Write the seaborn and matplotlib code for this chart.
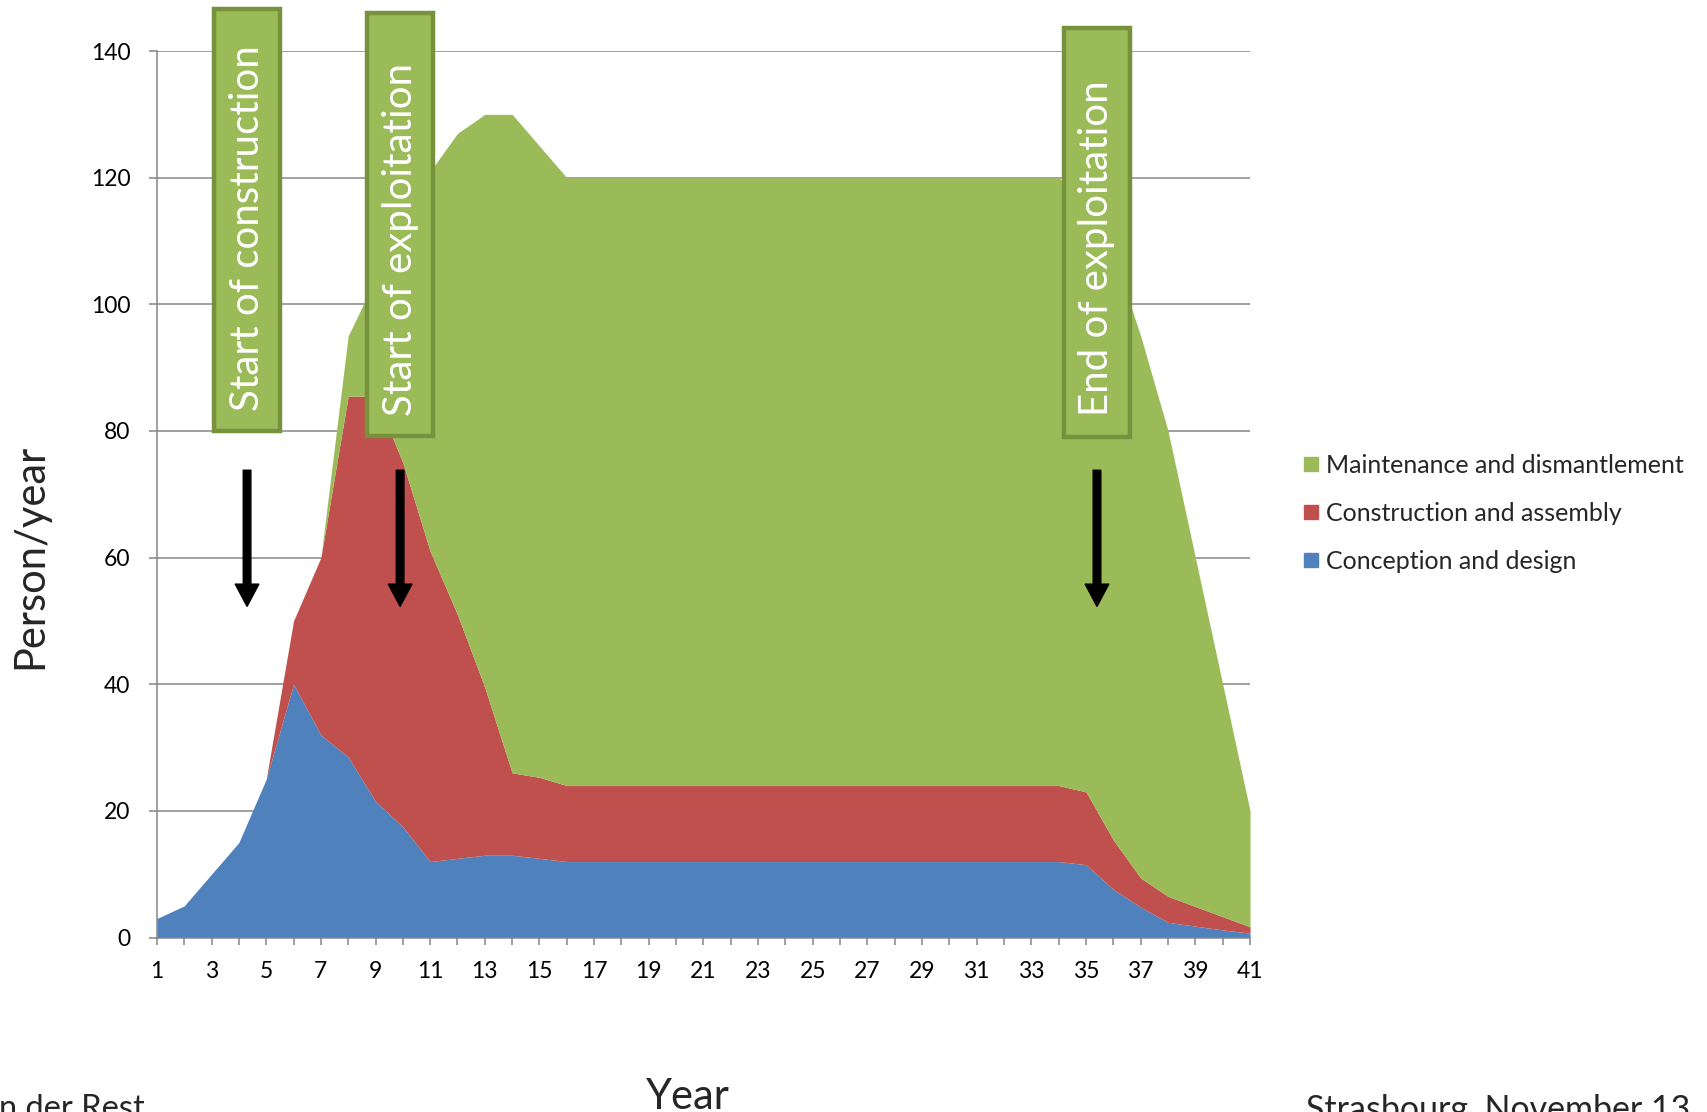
import numpy as np
import pandas as pd
import matplotlib
matplotlib.use('Agg')
import matplotlib.pyplot as plt
import seaborn as sns
from matplotlib.patches import Rectangle
from matplotlib.lines import Line2D

# data (person/year per phase)
years = list(range(1, 42))
conception = [3, 5, 10, 15, 25, 40, 32, 28.5, 21.5, 17.5,
              12, 12.5, 13, 13, 12.5, 12, 12, 12, 12, 12,
              12, 12, 12, 12, 12, 12, 12, 12, 12, 12,
              12, 12, 12, 12, 11.5, 7.6, 4.8, 2.4, 1.8, 1.2,
              0.7]
construction = [0, 0, 0, 0, 0, 10, 28, 57, 64, 57.5,
                49, 38.5, 26.5, 13, 12.8, 12, 12, 12, 12, 12,
                12, 12, 12, 12, 12, 12, 12, 12, 12, 12,
                12, 12, 12, 12, 11.5, 7.8, 4.6, 4.1, 3.1, 2.1,
                1.0]
maintenance = [0, 0, 0, 0, 0, 0, 0, 9.5, 18.5, 38,
               60, 76, 90.5, 104, 99.7, 96, 96, 96, 96, 96,
               96, 96, 96, 96, 96, 96, 96, 96, 96, 96,
               96, 96, 96, 96, 93, 92.6, 85.6, 73.5, 55.1, 36.7,
               18.3]

phases = ['Conception and design', 'Construction and assembly', 'Maintenance and dismantlement']
colors = ['#4F81BD', '#C0504D', '#9BBB59']

# milestones: label, year
milestones = ['Start of construction', 'Start of exploitation', 'End of exploitation']
milestone_years = [4.3, 9.9, 35.4]

df = pd.DataFrame({'year': years, phases[0]: conception,
                   phases[1]: construction, phases[2]: maintenance})

sns.set_theme(style='white')
plt.rcParams['font.family'] = ['Lato', 'DejaVu Sans']

fig = plt.figure(figsize=(17.07, 11.12), dpi=100)
ax = fig.add_axes([0.0919, 0.1569, 0.6404, 0.7972])

ax.stackplot(df['year'], df[phases[0]], df[phases[1]], df[phases[2]],
             colors=colors, linewidth=0, zorder=2)

ax.set_xlim(1, 41)
ax.set_ylim(0, 140)
ax.set_yticks(range(0, 141, 20))
ax.set_xticks(years)
ax.set_xticklabels([str(y) if y % 2 == 1 else '' for y in years])

grid_c = '#868686'
ax.grid(axis='y', color=grid_c, lw=1.1, zorder=0)
ax.grid(axis='x', visible=False)
ax.set_axisbelow(True)
for s in ['top', 'right']:
    ax.spines[s].set_visible(False)
for s in ['left', 'bottom']:
    ax.spines[s].set_color(grid_c)
    ax.spines[s].set_linewidth(1.1)
    ax.spines[s].set_zorder(3)
ax.tick_params(axis='y', direction='out', length=6, width=1.1, color=grid_c,
               labelsize=16.5, pad=13, left=True, labelcolor='black')
ax.tick_params(axis='x', direction='out', length=5, width=1.1, color=grid_c,
               labelsize=16.5, pad=12, bottom=True, labelcolor='black')
ax.set_xlabel('')
ax.set_ylabel('')

# milestone boxes with arrows (box bottom/top in data units)
box_bottom = [80.0, 79.2, 79.1]
box_top = [146.6, 146.0, 143.6]
for label, yr, b, t in zip(milestones, milestone_years, box_bottom, box_top):
    ax.add_patch(Rectangle((yr - 1.2, b), 2.4, t - b,
                           facecolor='#9BBB59', edgecolor='#76923C', lw=3.2,
                           clip_on=False, zorder=5))
    ax.text(yr, b + 3.2, label, rotation=90, ha='center', va='bottom', color='white',
            fontsize=29, zorder=6, clip_on=False)
    ax.annotate('', xy=(yr, 52.3), xytext=(yr, 73.8),
                arrowprops=dict(facecolor='black', edgecolor='black', width=5.5,
                                headwidth=17, headlength=16, shrink=0),
                zorder=6)

# legend
handles = [Line2D([], [], marker='s', ls='', markersize=10, color=c) for c in colors[::-1]]
fig.legend(handles, phases[::-1], loc='upper left', bbox_to_anchor=(1300 / 1707, 1 - 454 / 1112),
           frameon=False, fontsize=18, handletextpad=0.15, labelspacing=1.0,
           borderpad=0, borderaxespad=0, handlelength=0.9)

fig.text(30 / 1707, 1 - 556 / 1112, 'Person/year', rotation=90, ha='center', va='center', fontsize=30)
fig.text(688 / 1707, 1 - 1078 / 1112, 'Year', ha='center', va='top', fontsize=30)
fig.text(145 / 1707, 1 - 1094 / 1112, 'n der Rest', ha='right', va='top', fontsize=23.5)
fig.text(1306 / 1707, 1 - 1094 / 1112, 'Strasbourg, November 13', ha='left', va='top', fontsize=24.5)

fig.savefig('out.png', dpi=100)
